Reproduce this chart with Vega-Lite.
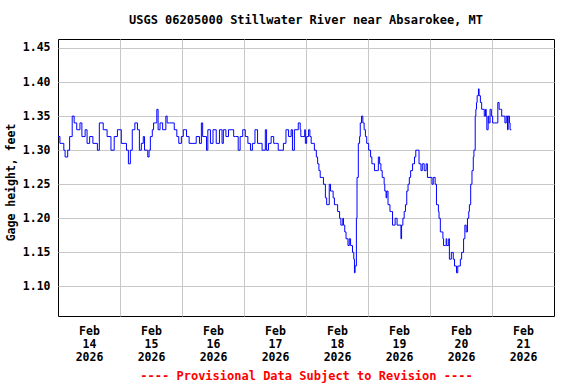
{
  "$schema": "https://vega.github.io/schema/vega-lite/v6.json",
  "width": 496,
  "height": 277,
  "autosize": {"type": "none"},
  "padding": {"left": 58, "top": 39, "right": 22, "bottom": 68},
  "background": "white",
  "title": {"text": "USGS 06205000 Stillwater River near Absarokee, MT", "font": "DejaVu Sans Mono", "fontSize": 12, "fontWeight": "bold", "color": "black", "anchor": "middle", "baseline": "alphabetic", "offset": 16, "dy": 13},
  "data": {"values": [
    {"time":"2026-02-14T00:00Z","height":1.32},{"time":"2026-02-14T00:45Z","height":1.31},{"time":"2026-02-14T01:30Z","height":1.31},{"time":"2026-02-14T02:15Z","height":1.30},{"time":"2026-02-14T02:45Z","height":1.29},{"time":"2026-02-14T03:45Z","height":1.30},{"time":"2026-02-14T04:30Z","height":1.32},{"time":"2026-02-14T05:30Z","height":1.35},{"time":"2026-02-14T06:15Z","height":1.34},{"time":"2026-02-14T07:15Z","height":1.33},{"time":"2026-02-14T08:30Z","height":1.34},{"time":"2026-02-14T09:15Z","height":1.32},{"time":"2026-02-14T10:30Z","height":1.33},{"time":"2026-02-14T11:15Z","height":1.31},{"time":"2026-02-14T12:15Z","height":1.32},{"time":"2026-02-14T13:30Z","height":1.31},{"time":"2026-02-14T15:15Z","height":1.30},{"time":"2026-02-14T16:00Z","height":1.34},{"time":"2026-02-14T17:30Z","height":1.33},{"time":"2026-02-14T19:00Z","height":1.32},{"time":"2026-02-14T20:30Z","height":1.30},{"time":"2026-02-14T21:45Z","height":1.32},{"time":"2026-02-14T23:00Z","height":1.33},
    {"time":"2026-02-15T00:30Z","height":1.31},{"time":"2026-02-15T02:30Z","height":1.30},{"time":"2026-02-15T03:15Z","height":1.28},{"time":"2026-02-15T04:00Z","height":1.30},{"time":"2026-02-15T04:45Z","height":1.33},{"time":"2026-02-15T05:45Z","height":1.34},{"time":"2026-02-15T06:45Z","height":1.33},{"time":"2026-02-15T07:30Z","height":1.30},{"time":"2026-02-15T08:15Z","height":1.31},{"time":"2026-02-15T09:00Z","height":1.32},{"time":"2026-02-15T09:30Z","height":1.30},{"time":"2026-02-15T10:15Z","height":1.30},{"time":"2026-02-15T10:45Z","height":1.29},{"time":"2026-02-15T11:15Z","height":1.30},{"time":"2026-02-15T11:45Z","height":1.32},{"time":"2026-02-15T12:30Z","height":1.33},{"time":"2026-02-15T13:00Z","height":1.34},{"time":"2026-02-15T13:45Z","height":1.34},{"time":"2026-02-15T14:15Z","height":1.36},{"time":"2026-02-15T14:45Z","height":1.33},{"time":"2026-02-15T15:30Z","height":1.34},{"time":"2026-02-15T16:30Z","height":1.33},{"time":"2026-02-15T17:45Z","height":1.35},{"time":"2026-02-15T18:15Z","height":1.34},{"time":"2026-02-15T19:15Z","height":1.34},{"time":"2026-02-15T20:30Z","height":1.34},{"time":"2026-02-15T21:00Z","height":1.33},{"time":"2026-02-15T22:00Z","height":1.32},{"time":"2026-02-15T22:45Z","height":1.31},{"time":"2026-02-15T23:45Z","height":1.32},
    {"time":"2026-02-16T00:30Z","height":1.33},{"time":"2026-02-16T01:45Z","height":1.32},{"time":"2026-02-16T02:45Z","height":1.31},{"time":"2026-02-16T04:15Z","height":1.31},{"time":"2026-02-16T05:30Z","height":1.32},{"time":"2026-02-16T06:45Z","height":1.31},{"time":"2026-02-16T07:30Z","height":1.34},{"time":"2026-02-16T08:00Z","height":1.32},{"time":"2026-02-16T09:30Z","height":1.30},{"time":"2026-02-16T10:00Z","height":1.33},{"time":"2026-02-16T11:00Z","height":1.31},{"time":"2026-02-16T12:00Z","height":1.33},{"time":"2026-02-16T13:15Z","height":1.31},{"time":"2026-02-16T14:30Z","height":1.33},{"time":"2026-02-16T15:30Z","height":1.31},{"time":"2026-02-16T16:00Z","height":1.33},{"time":"2026-02-16T17:00Z","height":1.32},{"time":"2026-02-16T18:00Z","height":1.33},{"time":"2026-02-16T19:00Z","height":1.33},{"time":"2026-02-16T20:00Z","height":1.32},{"time":"2026-02-16T20:45Z","height":1.32},{"time":"2026-02-16T21:45Z","height":1.30},{"time":"2026-02-16T22:30Z","height":1.32},{"time":"2026-02-16T23:30Z","height":1.33},
    {"time":"2026-02-17T00:30Z","height":1.32},{"time":"2026-02-17T01:30Z","height":1.31},{"time":"2026-02-17T02:30Z","height":1.30},{"time":"2026-02-17T03:15Z","height":1.31},{"time":"2026-02-17T04:15Z","height":1.33},{"time":"2026-02-17T05:15Z","height":1.31},{"time":"2026-02-17T06:15Z","height":1.31},{"time":"2026-02-17T07:00Z","height":1.30},{"time":"2026-02-17T08:15Z","height":1.33},{"time":"2026-02-17T08:45Z","height":1.30},{"time":"2026-02-17T09:30Z","height":1.31},{"time":"2026-02-17T10:30Z","height":1.32},{"time":"2026-02-17T11:30Z","height":1.31},{"time":"2026-02-17T12:15Z","height":1.31},{"time":"2026-02-17T13:15Z","height":1.30},{"time":"2026-02-17T14:30Z","height":1.30},{"time":"2026-02-17T15:15Z","height":1.31},{"time":"2026-02-17T16:15Z","height":1.33},{"time":"2026-02-17T17:15Z","height":1.32},{"time":"2026-02-17T18:15Z","height":1.33},{"time":"2026-02-17T18:45Z","height":1.30},{"time":"2026-02-17T19:30Z","height":1.33},{"time":"2026-02-17T20:30Z","height":1.33},{"time":"2026-02-17T21:00Z","height":1.34},{"time":"2026-02-17T21:45Z","height":1.33},{"time":"2026-02-17T22:00Z","height":1.32},{"time":"2026-02-17T22:45Z","height":1.32},{"time":"2026-02-17T23:30Z","height":1.33},{"time":"2026-02-17T23:45Z","height":1.31},
    {"time":"2026-02-18T00:15Z","height":1.32},{"time":"2026-02-18T01:00Z","height":1.33},{"time":"2026-02-18T01:30Z","height":1.32},{"time":"2026-02-18T02:00Z","height":1.31},{"time":"2026-02-18T02:45Z","height":1.31},{"time":"2026-02-18T03:15Z","height":1.30},{"time":"2026-02-18T04:00Z","height":1.29},{"time":"2026-02-18T04:30Z","height":1.28},{"time":"2026-02-18T05:00Z","height":1.27},{"time":"2026-02-18T05:30Z","height":1.26},{"time":"2026-02-18T06:15Z","height":1.26},{"time":"2026-02-18T06:45Z","height":1.25},{"time":"2026-02-18T07:30Z","height":1.23},{"time":"2026-02-18T08:00Z","height":1.22},{"time":"2026-02-18T09:00Z","height":1.25},{"time":"2026-02-18T09:30Z","height":1.24},{"time":"2026-02-18T09:45Z","height":1.24},{"time":"2026-02-18T10:30Z","height":1.23},{"time":"2026-02-18T11:00Z","height":1.22},{"time":"2026-02-18T11:45Z","height":1.22},{"time":"2026-02-18T12:15Z","height":1.21},{"time":"2026-02-18T13:00Z","height":1.20},{"time":"2026-02-18T13:30Z","height":1.19},{"time":"2026-02-18T14:15Z","height":1.20},{"time":"2026-02-18T14:30Z","height":1.19},{"time":"2026-02-18T15:00Z","height":1.18},{"time":"2026-02-18T15:30Z","height":1.17},{"time":"2026-02-18T16:15Z","height":1.16},{"time":"2026-02-18T16:45Z","height":1.17},{"time":"2026-02-18T17:15Z","height":1.16},{"time":"2026-02-18T18:00Z","height":1.15},{"time":"2026-02-18T18:30Z","height":1.14},{"time":"2026-02-18T18:45Z","height":1.12},{"time":"2026-02-18T19:00Z","height":1.13},{"time":"2026-02-18T19:30Z","height":1.20},{"time":"2026-02-18T19:45Z","height":1.26},{"time":"2026-02-18T20:15Z","height":1.31},{"time":"2026-02-18T20:45Z","height":1.32},{"time":"2026-02-18T21:00Z","height":1.34},{"time":"2026-02-18T21:30Z","height":1.35},{"time":"2026-02-18T22:00Z","height":1.34},{"time":"2026-02-18T22:30Z","height":1.33},{"time":"2026-02-18T23:00Z","height":1.32},{"time":"2026-02-18T23:30Z","height":1.31},
    {"time":"2026-02-19T00:15Z","height":1.30},{"time":"2026-02-19T01:00Z","height":1.29},{"time":"2026-02-19T01:30Z","height":1.28},{"time":"2026-02-19T02:00Z","height":1.28},{"time":"2026-02-19T02:30Z","height":1.27},{"time":"2026-02-19T03:45Z","height":1.27},{"time":"2026-02-19T04:00Z","height":1.29},{"time":"2026-02-19T04:30Z","height":1.28},{"time":"2026-02-19T05:00Z","height":1.27},{"time":"2026-02-19T05:30Z","height":1.26},{"time":"2026-02-19T06:15Z","height":1.25},{"time":"2026-02-19T06:30Z","height":1.24},{"time":"2026-02-19T07:00Z","height":1.23},{"time":"2026-02-19T07:15Z","height":1.24},{"time":"2026-02-19T07:45Z","height":1.22},{"time":"2026-02-19T08:30Z","height":1.21},{"time":"2026-02-19T09:00Z","height":1.21},{"time":"2026-02-19T09:30Z","height":1.19},{"time":"2026-02-19T10:30Z","height":1.20},{"time":"2026-02-19T11:15Z","height":1.19},{"time":"2026-02-19T12:00Z","height":1.19},{"time":"2026-02-19T12:45Z","height":1.17},{"time":"2026-02-19T13:00Z","height":1.19},{"time":"2026-02-19T13:30Z","height":1.20},{"time":"2026-02-19T14:00Z","height":1.21},{"time":"2026-02-19T14:30Z","height":1.22},{"time":"2026-02-19T15:00Z","height":1.24},{"time":"2026-02-19T15:30Z","height":1.25},{"time":"2026-02-19T16:00Z","height":1.26},{"time":"2026-02-19T16:30Z","height":1.27},{"time":"2026-02-19T17:15Z","height":1.28},{"time":"2026-02-19T18:00Z","height":1.29},{"time":"2026-02-19T18:30Z","height":1.30},{"time":"2026-02-19T19:15Z","height":1.30},{"time":"2026-02-19T19:45Z","height":1.28},{"time":"2026-02-19T20:30Z","height":1.27},{"time":"2026-02-19T21:00Z","height":1.28},{"time":"2026-02-19T21:45Z","height":1.27},{"time":"2026-02-19T22:30Z","height":1.28},{"time":"2026-02-19T23:00Z","height":1.26},
    {"time":"2026-02-20T00:00Z","height":1.26},{"time":"2026-02-20T00:45Z","height":1.25},{"time":"2026-02-20T01:15Z","height":1.26},{"time":"2026-02-20T02:00Z","height":1.25},{"time":"2026-02-20T02:30Z","height":1.22},{"time":"2026-02-20T03:15Z","height":1.21},{"time":"2026-02-20T03:30Z","height":1.20},{"time":"2026-02-20T04:00Z","height":1.18},{"time":"2026-02-20T04:30Z","height":1.18},{"time":"2026-02-20T05:00Z","height":1.17},{"time":"2026-02-20T05:15Z","height":1.16},{"time":"2026-02-20T06:00Z","height":1.16},{"time":"2026-02-20T06:15Z","height":1.17},{"time":"2026-02-20T06:30Z","height":1.16},{"time":"2026-02-20T07:15Z","height":1.17},{"time":"2026-02-20T07:30Z","height":1.14},{"time":"2026-02-20T08:15Z","height":1.15},{"time":"2026-02-20T09:00Z","height":1.14},{"time":"2026-02-20T09:30Z","height":1.13},{"time":"2026-02-20T10:15Z","height":1.12},{"time":"2026-02-20T10:45Z","height":1.13},{"time":"2026-02-20T11:30Z","height":1.13},{"time":"2026-02-20T11:45Z","height":1.14},{"time":"2026-02-20T12:15Z","height":1.15},{"time":"2026-02-20T13:00Z","height":1.17},{"time":"2026-02-20T13:30Z","height":1.19},{"time":"2026-02-20T14:00Z","height":1.18},{"time":"2026-02-20T14:30Z","height":1.20},{"time":"2026-02-20T15:00Z","height":1.21},{"time":"2026-02-20T15:15Z","height":1.22},{"time":"2026-02-20T15:45Z","height":1.25},{"time":"2026-02-20T16:15Z","height":1.27},{"time":"2026-02-20T16:45Z","height":1.29},{"time":"2026-02-20T17:00Z","height":1.30},{"time":"2026-02-20T17:30Z","height":1.35},{"time":"2026-02-20T17:45Z","height":1.36},{"time":"2026-02-20T18:00Z","height":1.37},{"time":"2026-02-20T18:15Z","height":1.38},{"time":"2026-02-20T18:45Z","height":1.39},{"time":"2026-02-20T19:00Z","height":1.38},{"time":"2026-02-20T19:30Z","height":1.37},{"time":"2026-02-20T20:00Z","height":1.36},{"time":"2026-02-20T20:30Z","height":1.36},{"time":"2026-02-20T21:00Z","height":1.35},{"time":"2026-02-20T21:30Z","height":1.36},{"time":"2026-02-20T21:45Z","height":1.35},{"time":"2026-02-20T22:00Z","height":1.33},{"time":"2026-02-20T22:30Z","height":1.35},{"time":"2026-02-20T22:45Z","height":1.34},{"time":"2026-02-20T23:15Z","height":1.36},{"time":"2026-02-20T23:45Z","height":1.35},
    {"time":"2026-02-21T00:15Z","height":1.34},{"time":"2026-02-21T01:00Z","height":1.34},{"time":"2026-02-21T02:00Z","height":1.34},{"time":"2026-02-21T02:15Z","height":1.37},{"time":"2026-02-21T02:45Z","height":1.36},{"time":"2026-02-21T03:15Z","height":1.36},{"time":"2026-02-21T03:45Z","height":1.35},{"time":"2026-02-21T04:30Z","height":1.35},{"time":"2026-02-21T05:00Z","height":1.34},{"time":"2026-02-21T05:30Z","height":1.35},{"time":"2026-02-21T06:00Z","height":1.33},{"time":"2026-02-21T06:15Z","height":1.35},{"time":"2026-02-21T06:45Z","height":1.34},{"time":"2026-02-21T07:00Z","height":1.33},{"time":"2026-02-21T07:30Z","height":1.33}
  ]},
  "mark": {"type": "line", "color": "#0000ff", "strokeWidth": 1, "interpolate": "step-after"},
  "encoding": {
    "x": {
      "field": "time", "type": "temporal",
      "scale": {"type": "utc", "domain": [{"year": 2026, "month": 2, "date": 14, "utc": true}, {"year": 2026, "month": 2, "date": 22, "utc": true}]},
      "axis": {
        "values": [
          {"year": 2026, "month": 2, "date": 14, "hours": 12, "utc": true},
          {"year": 2026, "month": 2, "date": 15, "utc": true},
          {"year": 2026, "month": 2, "date": 15, "hours": 12, "utc": true},
          {"year": 2026, "month": 2, "date": 16, "utc": true},
          {"year": 2026, "month": 2, "date": 16, "hours": 12, "utc": true},
          {"year": 2026, "month": 2, "date": 17, "utc": true},
          {"year": 2026, "month": 2, "date": 17, "hours": 12, "utc": true},
          {"year": 2026, "month": 2, "date": 18, "utc": true},
          {"year": 2026, "month": 2, "date": 18, "hours": 12, "utc": true},
          {"year": 2026, "month": 2, "date": 19, "utc": true},
          {"year": 2026, "month": 2, "date": 19, "hours": 12, "utc": true},
          {"year": 2026, "month": 2, "date": 20, "utc": true},
          {"year": 2026, "month": 2, "date": 20, "hours": 12, "utc": true},
          {"year": 2026, "month": 2, "date": 21, "utc": true},
          {"year": 2026, "month": 2, "date": 21, "hours": 12, "utc": true}
        ],
        "grid": true,
        "gridColor": "#c8c8c8",
        "gridWidth": 1,
        "gridOpacity": {"condition": {"test": "utchours(datum.value) == 12", "value": 0}, "value": 1},
        "ticks": false,
        "domain": false,
        "labelExpr": "utchours(datum.value) == 12 ? [utcFormat(datum.value, '%b'), utcFormat(datum.value, '%d'), utcFormat(datum.value, '%Y')] : ''",
        "labelOverlap": false,
        "labelBound": false,
        "labelFlush": false,
        "labelAngle": 0,
        "labelFont": "DejaVu Sans Mono",
        "labelFontSize": 11.5,
        "labelFontWeight": "bold",
        "labelColor": "black",
        "labelLineHeight": 13,
        "labelPadding": 9,
        "title": "---- Provisional Data Subject to Revision ----",
        "titleColor": "#ff0000",
        "titleFont": "DejaVu Sans Mono",
        "titleFontSize": 12,
        "titleFontWeight": "bold",
        "titlePadding": 8
      }
    },
    "y": {
      "field": "height", "type": "quantitative",
      "scale": {"domain": [1.0566, 1.4632], "nice": false, "zero": false},
      "axis": {
        "values": [1.10, 1.15, 1.20, 1.25, 1.30, 1.35, 1.40, 1.45],
        "format": ".2f",
        "grid": true,
        "gridColor": "#c8c8c8",
        "ticks": false,
        "domain": false,
        "labelPadding": 8,
        "labelFont": "DejaVu Sans Mono",
        "labelFontSize": 11.5,
        "labelFontWeight": "bold",
        "labelColor": "black",
        "title": "Gage height, feet",
        "titleFont": "DejaVu Sans Mono",
        "titleFontSize": 11.5,
        "titleFontWeight": "bold",
        "titleColor": "black",
        "titleX": -47,
        "titleY": 143,
        "titleBaseline": "middle",
        "titleAlign": "center"
      }
    }
  },
  "config": {"view": {"stroke": "black", "strokeWidth": 1}}
}
